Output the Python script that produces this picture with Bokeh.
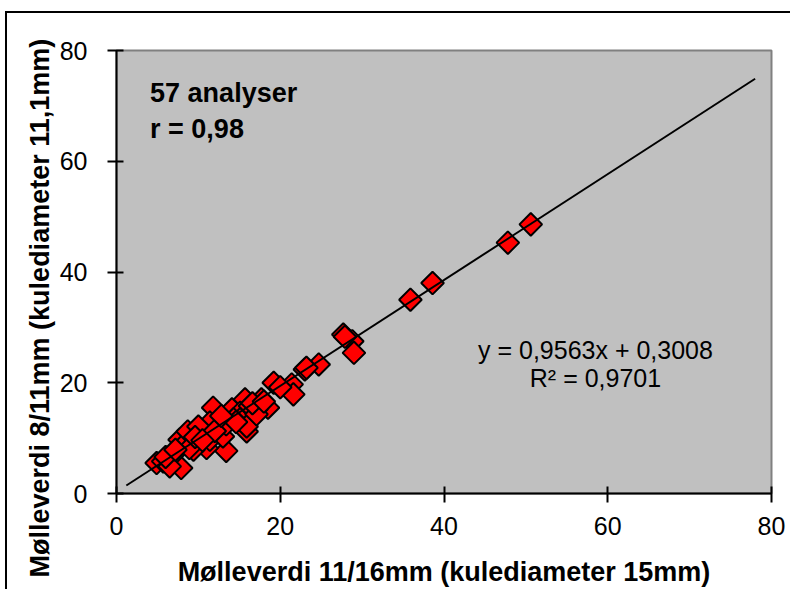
from bokeh.plotting import figure
from bokeh.models import Range1d, Label, FixedTicker, Title
from bokeh.embed import file_html
from bokeh.resources import INLINE

# data
x_vals = [50.6, 47.8, 38.6, 35.9, 27.7, 28.8, 29.0, 23.0, 24.7, 19.2,
          21.4, 21.6, 11.8, 14.1, 15.7, 18.5, 15.9, 13.4, 11.0, 7.9,
          4.9, 7.7, 9.8, 17.1, 15.1, 12.4, 11.4, 10.4, 8.5, 6.9,
          5.7, 11.4, 9.4, 6.5, 13.0, 15.1, 16.3, 8.7, 10.0, 8.9,
          14.3, 17.7, 15.9, 13.4, 17.1, 23.2, 27.9, 6.0, 7.2, 9.6,
          12.0, 14.6, 16.6, 18.0, 20.0, 10.5, 12.8]
y_vals = [48.6, 45.3, 38.0, 35.0, 28.7, 27.5, 25.4, 22.4, 23.3, 20.0,
          19.7, 17.9, 15.5, 15.2, 17.0, 15.5, 11.2, 7.7, 8.2, 4.6,
          5.5, 9.7, 11.6, 15.2, 14.6, 13.1, 12.8, 11.2, 9.2, 7.0,
          5.8, 9.7, 7.9, 4.9, 10.3, 13.4, 15.8, 11.2, 12.1, 8.2,
          13.4, 17.0, 12.1, 12.5, 14.3, 22.7, 28.3, 6.6, 7.9, 10.2,
          11.3, 12.9, 16.3, 16.6, 19.2, 9.6, 14.0]
slope = 0.9563
intercept = 0.3008
trend_x = [1.2, 78.0]
trend_y = [slope * v + intercept for v in trend_x]
ticks = [0, 20, 40, 60, 80]
x_title = "Mølleverdi 11/16mm (kulediameter 15mm)"
y_title = "Mølleverdi 8/11mm (kulediameter 11,1mm)"
note1 = "57 analyser"
note2 = "r = 0,98"
eq1 = "y = 0,9563x + 0,3008"
eq2 = "R² = 0,9701"

FONT = "Liberation Sans"

p = figure(width=785, height=578, output_backend="svg", toolbar_location=None,
           x_range=Range1d(0, 80), y_range=Range1d(0, 80),
           min_border_left=109, min_border_right=21, min_border_top=37,
           min_border_bottom=98)
p.styles = {"margin-top": "11px", "margin-left": "5px",
            "border-top": "2px solid black",
            "border-left": "2px solid black"}
p.background_fill_color = "#C0C0C0"
p.border_fill_color = "white"
p.outline_line_color = "#808080"
p.outline_line_width = 2
p.grid.visible = False

for ax in (p.xaxis[0], p.yaxis[0]):
    ax.ticker = FixedTicker(ticks=ticks)
    ax.minor_tick_line_color = None
    ax.major_tick_in = 7
    ax.major_tick_out = 9
    ax.major_tick_line_width = 2
    ax.major_tick_line_color = "black"
    ax.axis_line_width = 2
    ax.axis_line_color = "black"
    ax.major_label_text_font = FONT
    ax.major_label_text_font_size = "25px"
    ax.major_label_text_color = "black"
    ax.axis_label_text_font = FONT
    ax.axis_label_text_font_size = "27px"
    ax.axis_label_text_font_style = "bold"
    ax.axis_label_text_color = "black"

p.xaxis[0].major_label_standoff = 14
p.yaxis[0].major_label_standoff = 20
p.xaxis[0].axis_label = x_title
p.xaxis[0].axis_label_standoff = 19

p.add_layout(Title(text=y_title, align="left", offset=-84, standoff=4,
                   text_font=FONT, text_font_size="27px",
                   text_font_style="bold", text_color="black"), "left")

p.scatter(x_vals, y_vals, marker="square", size=16, angle=0.785398,
          fill_color="#FF0000", line_color="black", line_width=2)
p.line(trend_x, trend_y, line_color="black", line_width=2)

p.add_layout(Label(x=4.1, y=69.7, text=note1, text_font=FONT,
                   text_font_size="27px", text_font_style="bold",
                   text_color="black"))
p.add_layout(Label(x=4.1, y=63.2, text=note2, text_font=FONT,
                   text_font_size="27px", text_font_style="bold",
                   text_color="black"))
p.add_layout(Label(x=58.5, y=23.3, text=eq1, text_font=FONT,
                   text_font_size="25px", text_align="center",
                   text_color="black"))
p.add_layout(Label(x=58.5, y=18.4, text=eq2, text_font=FONT,
                   text_font_size="25px", text_align="center",
                   text_color="black"))

open("out.html", "w").write(file_html(p, INLINE))
